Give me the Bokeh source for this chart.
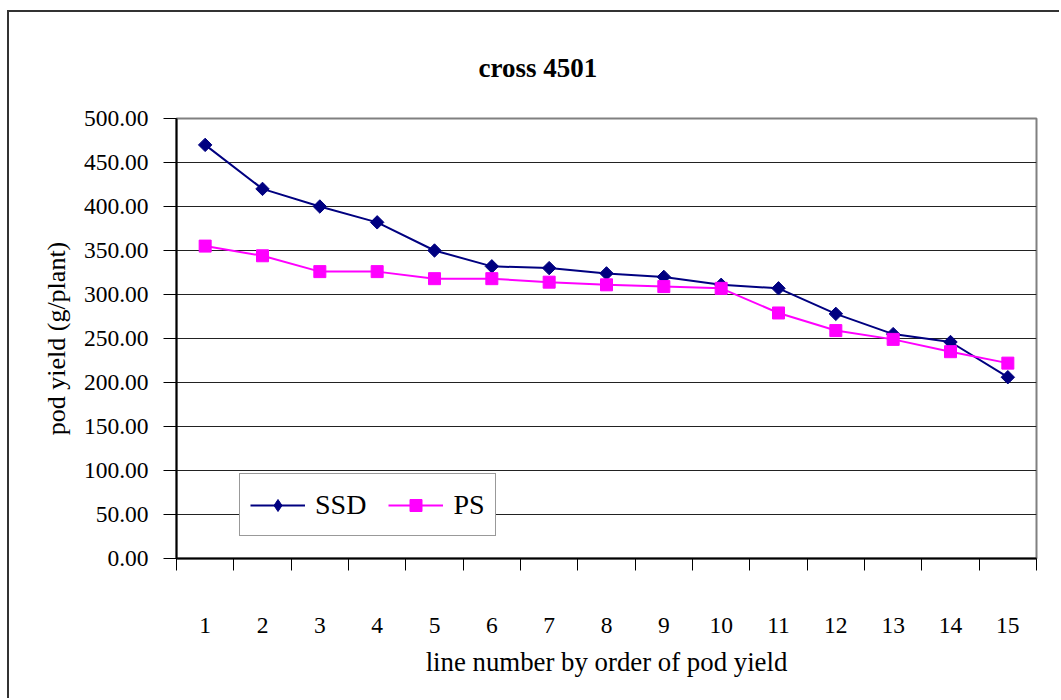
from bokeh.plotting import figure
from bokeh.models import FixedTicker, PrintfTickFormatter, Legend, LegendItem
from bokeh.embed import file_html
from bokeh.resources import INLINE
import numpy as np

lines = list(range(1, 16))
ssd = [470, 420, 400, 382, 350, 332, 330, 324, 320, 311, 307, 278, 255, 246, 206]
ps = [355, 344, 326, 326, 318, 318, 314, 311, 309, 307, 279, 259, 249, 235, 222]
y_ticks = [0, 50, 100, 150, 200, 250, 300, 350, 400, 450, 500]

FONT = "Liberation Serif"

p = figure(width=1052, height=688, output_backend="svg", toolbar_location=None,
           x_range=(0.5, 15.5), y_range=(0, 500),
           min_border_left=167, min_border_right=25, min_border_top=106, min_border_bottom=142)
p.styles = {"margin-left": "7px", "margin-top": "10px",
            "border-left": "2px solid #333333", "border-top": "2px solid #333333"}

p.background_fill_color = "white"
p.border_fill_color = "white"
p.outline_line_color = "#808080"
p.outline_line_width = 2

# title
p.title.text = "cross 4501"
p.title.text_font = FONT
p.title.text_font_size = "27px"
p.title.text_font_style = "bold"
p.title.text_color = "black"
p.title.align = "left"
p.title.offset = 302
p.title.standoff = 71

# grid
p.xgrid.visible = False
p.ygrid.ticker = FixedTicker(ticks=y_ticks[1:-1])
p.ygrid.grid_line_color = "#222222"
p.ygrid.grid_line_width = 1

# y axis
ya = p.yaxis[0]
ya.ticker = FixedTicker(ticks=y_ticks)
ya.formatter = PrintfTickFormatter(format="%.2f")
ya.axis_line_color = "black"
ya.axis_line_width = 2
ya.major_tick_out = 13
ya.major_tick_in = 0
ya.major_tick_line_color = "black"
ya.major_tick_line_width = 1
ya.minor_tick_line_color = None
ya.major_label_standoff = 15
ya.major_label_text_font = FONT
ya.major_label_text_font_size = "23.5px"
ya.major_label_text_color = "black"
ya.axis_label = "pod yield (g/plant)"
ya.axis_label_text_font = FONT
ya.axis_label_text_font_size = "26px"
ya.axis_label_text_font_style = "normal"
ya.axis_label_text_color = "black"
ya.axis_label_standoff = 10

# x axis
xa = p.xaxis[0]
xa.ticker = FixedTicker(ticks=lines, minor_ticks=[i + 0.5 for i in range(0, 16)])
xa.axis_line_color = "black"
xa.axis_line_width = 2
xa.major_tick_line_color = None
xa.major_tick_out = 0
xa.major_tick_in = 0
xa.minor_tick_line_color = "black"
xa.minor_tick_line_width = 1
xa.minor_tick_out = 12
xa.minor_tick_in = 0
xa.major_label_standoff = 47
xa.major_label_text_font = FONT
xa.major_label_text_font_size = "23.5px"
xa.major_label_text_color = "black"
xa.axis_label = "line number by order of pod yield"
xa.axis_label_text_font = FONT
xa.axis_label_text_font_size = "26.8px"
xa.axis_label_text_font_style = "normal"
xa.axis_label_text_color = "black"
xa.axis_label_standoff = 11

# series
l1 = p.line(lines, ssd, line_color="#000080", line_width=2)
m1 = p.scatter(lines, ssd, marker="square", size=9.5, angle=np.pi / 4,
               fill_color="#000080", line_color="#000080")
# small diamonds hidden under the rotated squares; used for the legend symbol
k1 = p.scatter(lines, ssd, marker="diamond", size=8,
               fill_color="#000080", line_color="#000080")
l2 = p.line(lines, ps, line_color="#FF00FF", line_width=2)
m2 = p.scatter(lines, ps, marker="square", size=12,
               fill_color="#FF00FF", line_color="#FF00FF")

legend = Legend(items=[LegendItem(label="SSD", renderers=[l1, k1]),
                       LegendItem(label="PS", renderers=[l2, m2])],
                orientation="horizontal", location=(63, 22))
legend.label_text_font = FONT
legend.label_text_font_size = "28px"
legend.label_text_color = "black"
legend.label_height = 41
legend.glyph_height = 30
legend.glyph_width = 55
legend.label_standoff = 10
legend.spacing = 22
legend.padding = 10
legend.margin = 0
legend.border_line_color = "#333333"
legend.border_line_width = 1.5
legend.background_fill_color = "white"
legend.background_fill_alpha = 1
p.add_layout(legend, "center")

open("out.html", "w").write(file_html(p, INLINE))
